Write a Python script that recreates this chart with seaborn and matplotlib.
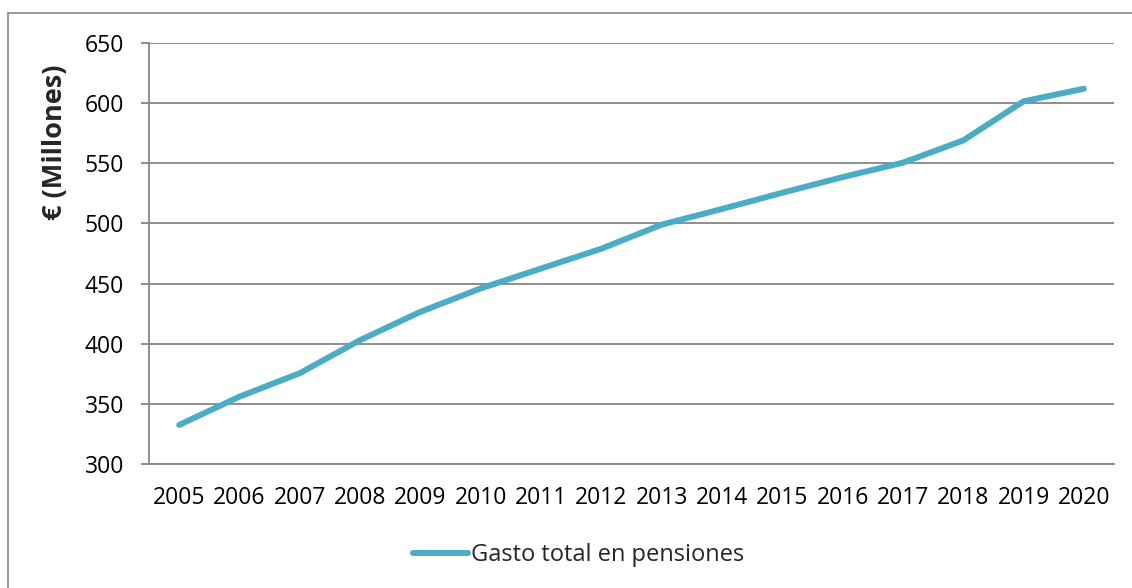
import matplotlib.pyplot as plt
import pandas as pd
import seaborn as sns
from matplotlib.patches import Rectangle

years = [2005, 2006, 2007, 2008, 2009, 2010, 2011, 2012,
         2013, 2014, 2015, 2016, 2017, 2018, 2019, 2020]
gasto = [332.5, 356, 375.5, 403, 426.5, 446, 462.5, 479,
         499, 512, 525.5, 538.5, 550.5, 569, 601.5, 612]
yticks = [300, 350, 400, 450, 500, 550, 600, 650]

df = pd.DataFrame({"year": years, "Gasto total en pensiones": gasto})

sns.set_style("white")
plt.rcParams["font.family"] = ["Open Sans", "DejaVu Sans"]

grey = "#868686"
fig = plt.figure(figsize=(11.32, 5.88), dpi=100)
ax = fig.add_axes([149 / 1132, 1 - 464 / 588, 965 / 1132, 421 / 588])

# outer chart frame
fig.patches.append(Rectangle((8 / 1132, -0.05), 1.1, 1 - 13 / 588 + 0.05,
                             transform=fig.transFigure, fill=False,
                             edgecolor=grey, linewidth=1.2))

sns.lineplot(data=df, x="year", y="Gasto total en pensiones", ax=ax,
             color="#4BACC6", linewidth=4.3, solid_capstyle="round",
             label="Gasto total en pensiones", legend=False)

ax.set_xlim(2004.5, 2020.5)
ax.set_ylim(300, 650)
ax.set_xticks(years)
ax.set_yticks(yticks)
ax.yaxis.grid(True, color=grey, linewidth=1.3)
ax.set_axisbelow(True)

for side in ["top", "right"]:
    ax.spines[side].set_visible(False)
for side in ["left", "bottom"]:
    ax.spines[side].set_color(grey)
    ax.spines[side].set_linewidth(1.3)

ax.tick_params(axis="y", length=6, width=1.3, color=grey, pad=12,
               labelsize=16.5, labelcolor="black", left=True)
ax.tick_params(axis="x", length=0, pad=16, labelsize=16.5, labelcolor="black")

ax.set_xlabel("")
ax.set_ylabel("€ (Millones)", fontsize=19.5, fontweight="bold")
ax.yaxis.set_label_coords(-0.084, 0.765)

handles, labels = ax.get_legend_handles_labels()
fig.legend(handles, labels, loc="center", bbox_to_anchor=(579 / 1132, 1 - 555 / 588),
           frameon=False, fontsize=17, handlelength=2.3, handletextpad=0.15)

fig.savefig("out.png", dpi=100)
